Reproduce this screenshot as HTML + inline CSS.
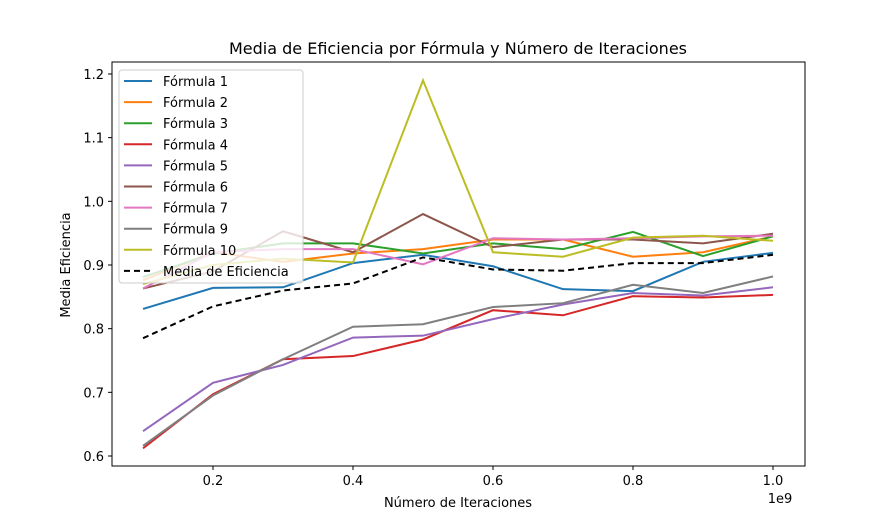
<!DOCTYPE html>
<html><head><meta charset="utf-8"><style>
body{margin:0;background:#fff;font-family:"Liberation Sans","DejaVu Sans",sans-serif}
svg text{font-family:"DejaVu Sans","Liberation Sans",sans-serif;fill:#000}
</style></head><body>
<svg id="chart" width="894" height="524" xmlns="http://www.w3.org/2000/svg">
<rect width="894" height="524" fill="#fff"/>
<text x="458" y="54" font-size="16" text-anchor="middle">Media de Eficiencia por Fórmula y Número de Iteraciones</text>
<g id="plot"></g>
<rect x="112" y="62" width="693" height="404" fill="none" stroke="#000" stroke-width="1"/>
<text x="458" y="507" font-size="13" text-anchor="middle">Número de Iteraciones</text>
<text x="780" y="503" font-size="13" text-anchor="middle">1e9</text>
<text x="70" y="265" font-size="13" text-anchor="middle" transform="rotate(-90 70 265)">Media Eficiencia</text>
<g id="legend"></g>
</svg>
<script>
const xs=[0.1,0.2,0.3,0.4,0.5,0.6,0.7,0.8,0.9,1.0];
const xTicks=[0.2,0.4,0.6,0.8,1.0];
const yTicks=[0.6,0.7,0.8,0.9,1.0,1.1,1.2];
const names=["Fórmula 1","Fórmula 2","Fórmula 3","Fórmula 4","Fórmula 5","Fórmula 6","Fórmula 7","Fórmula 9","Fórmula 10","Media de Eficiencia"];
const colors=["#1f77b4","#ff7f0e","#2ca02c","#d62728","#9467bd","#8c564b","#e377c2","#7f7f7f","#bcbd22","#000000"];
const f1=[0.831,0.864,0.865,0.903,0.916,0.898,0.862,0.859,0.905,0.919];
const f2=[0.876,0.92,0.905,0.918,0.925,0.94,0.94,0.913,0.92,0.945];
const f3=[0.881,0.918,0.934,0.934,0.918,0.934,0.925,0.952,0.914,0.945];
const f4=[0.612,0.697,0.752,0.757,0.783,0.829,0.821,0.851,0.849,0.853];
const f5=[0.639,0.715,0.743,0.786,0.789,0.815,0.838,0.856,0.852,0.865];
const f6=[0.863,0.89,0.953,0.92,0.98,0.928,0.94,0.94,0.934,0.949];
const f7=[0.863,0.92,0.925,0.925,0.901,0.942,0.94,0.942,0.945,0.946];
const f9=[0.616,0.695,0.752,0.803,0.807,0.834,0.84,0.869,0.856,0.882];
const f10=[0.87,0.9,0.91,0.904,1.19,0.92,0.913,0.943,0.946,0.938];
const media=[0.785,0.835,0.86,0.871,0.912,0.893,0.891,0.903,0.903,0.916];
const series=[f1,f2,f3,f4,f5,f6,f7,f9,f10,media];
const sx=v=>143+(v-0.1)*700;
const sy=v=>456-(v-0.6)*636.7;
const NS="http://www.w3.org/2000/svg";
const plot=document.getElementById('plot');
function mk(tag,attrs,parent){const e=document.createElementNS(NS,tag);for(const k in attrs)e.setAttribute(k,attrs[k]);parent.appendChild(e);return e;}
xTicks.forEach(t=>{
 const l=mk('line',{x1:sx(t),x2:sx(t),y1:466,y2:470,stroke:'#000'},plot);
 
 
 const tx=mk('text',{x:sx(t),y:485,'font-size':13,'text-anchor':'middle'},plot);
 tx.textContent=t.toFixed(1);
 
 
});
yTicks.forEach(t=>{
 const l=mk('line',{x1:108,x2:112,y1:sy(t),y2:sy(t),stroke:'#000'},plot);
 
 
 const tx=mk('text',{x:104,y:sy(t)+5,'font-size':13,'text-anchor':'end'},plot);
 tx.textContent=t.toFixed(1);
 
 
});
series.forEach((s,i)=>{
 const p=mk('polyline',{points:s.map((v,j)=>sx(xs[j])+','+sy(v)).join(' '),fill:'none',stroke:colors[i],'stroke-width':2,'stroke-dasharray':i===9?'6,4':'none'},plot);
 
 
});
const lg=document.getElementById('legend');
const box=mk('rect',{x:119,y:70,width:184,height:213,rx:3,fill:'#fff','fill-opacity':0.8,stroke:'#ccc'},lg);


names.forEach((n,i)=>{
 const y=81+i*21.1;
 const l=mk('line',{x1:124,x2:152,y1:y,y2:y,stroke:colors[i],'stroke-width':2,'stroke-dasharray':i===9?'6,4':'none'},lg);
 
 
 const t=mk('text',{x:163,y:y+5,'font-size':13},lg);
 t.textContent=n;
 
 
});
</script>
</body></html>
